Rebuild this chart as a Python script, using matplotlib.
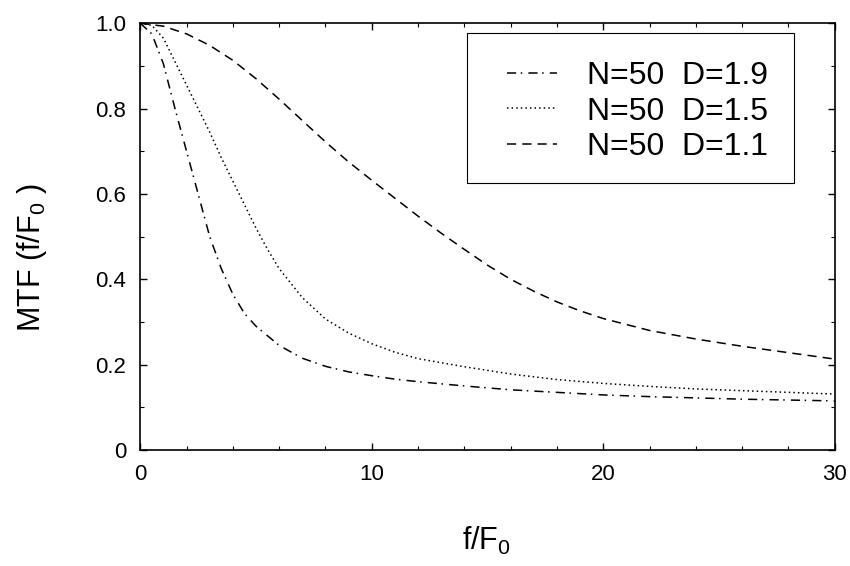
import matplotlib
matplotlib.use("Agg")
import matplotlib.pyplot as plt
from matplotlib.ticker import MultipleLocator
from matplotlib.patches import Rectangle

plt.rcParams['font.family'] = ['Liberation Sans', 'DejaVu Sans']
plt.rcParams['mathtext.default'] = 'regular'

# values
x_d19 = [0, 0.5, 1, 1.5, 2, 2.5, 3, 3.5, 4, 4.5, 5, 6, 7, 8, 9, 10, 11, 12, 14, 16, 18, 20, 22, 24, 26, 28, 30]
mtf_d19 = [1.0, 0.975, 0.905, 0.80, 0.70, 0.60, 0.50, 0.425, 0.365, 0.32, 0.29, 0.245, 0.215, 0.196, 0.183,
           0.174, 0.166, 0.16, 0.15, 0.141, 0.135, 0.129, 0.125, 0.122, 0.119, 0.117, 0.115]

x_d15 = [0, 0.5, 1, 1.5, 2, 2.5, 3, 3.5, 4, 4.5, 5, 5.5, 6, 7, 8, 9, 10, 11, 12, 14, 16, 18, 20, 22, 24, 26, 28, 30]
mtf_d15 = [1.0, 0.995, 0.965, 0.91, 0.855, 0.80, 0.745, 0.685, 0.63, 0.575, 0.52, 0.47, 0.425, 0.357, 0.307,
           0.274, 0.249, 0.229, 0.214, 0.195, 0.178, 0.165, 0.156, 0.149, 0.143, 0.139, 0.135, 0.131]

x_d11 = [0, 1, 2, 3, 4, 5, 6, 7, 8, 9, 10, 11, 12, 13, 14, 15, 16, 17, 18, 19, 20, 22, 24, 26, 28, 30]
mtf_d11 = [1.0, 0.993, 0.975, 0.948, 0.913, 0.87, 0.822, 0.772, 0.722, 0.675, 0.632, 0.59, 0.548, 0.508,
           0.47, 0.433, 0.40, 0.372, 0.347, 0.326, 0.308, 0.28, 0.26, 0.243, 0.228, 0.213]

labels = ["N=50  D=1.9", "N=50  D=1.5", "N=50  D=1.1"]

fig = plt.figure(figsize=(8.5, 5.66), dpi=100)
ax = fig.add_axes([0.165, 0.205, 0.817, 0.754])

ax.plot(x_d19, mtf_d19, color='black', lw=1.1, linestyle=(0, (6, 3, 1, 4)), label=labels[0])
ax.plot(x_d15, mtf_d15, color='black', lw=1.1, linestyle=(0, (1, 2)), label=labels[1])
ax.plot(x_d11, mtf_d11, color='black', lw=1.1, linestyle=(0, (6, 4)), label=labels[2])

ax.set_xlim(0, 30)
ax.set_ylim(0, 1.0)
ax.set_xticks([0, 10, 20, 30])
ax.set_yticks([0, 0.2, 0.4, 0.6, 0.8, 1.0])
ax.set_yticklabels(['0', '0.2', '0.4', '0.6', '0.8', '1.0'])
ax.xaxis.set_minor_locator(MultipleLocator(2))
ax.yaxis.set_minor_locator(MultipleLocator(0.1))
ax.tick_params(which='both', direction='in', top=True, right=True, labelsize=16, pad=10)
ax.tick_params(which='major', length=5, width=1)
ax.tick_params(which='minor', length=3, width=0.8)
for s in ax.spines.values():
    s.set_linewidth(1.2)

ax.set_xlabel('f/F$_0$', fontsize=22)
ax.set_ylabel('MTF (f/F$_0$ )', fontsize=22)
ax.xaxis.set_label_coords(0.498, -0.175)
ax.yaxis.set_label_coords(-0.132, 0.45)

# legend frame drawn separately, legend itself without frame
ax.add_patch(Rectangle((0.47, 0.625), 0.472, 0.352, transform=ax.transAxes, facecolor='white',
                       edgecolor='black', lw=0.8, zorder=3))
leg = ax.legend(loc='upper left', bbox_to_anchor=(0.528, 0.912), fontsize=23, frameon=False,
                handlelength=1.56, handletextpad=0.94, labelspacing=0.18, borderpad=0, borderaxespad=0)
leg.set_zorder(4)

fig.savefig('out.png', dpi=100)
